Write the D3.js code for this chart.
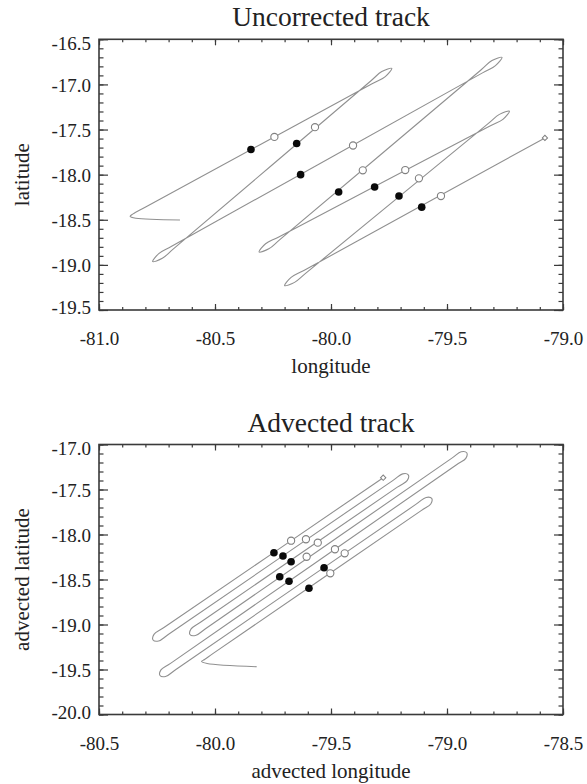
<!DOCTYPE html>
<html><head><meta charset="utf-8">
<script src="https://cdn.jsdelivr.net/npm/d3@7"></script>
<style>
body{margin:0;background:#fff}
svg{display:block}
</style>
</head><body>
<svg id="chart" width="587" height="784"></svg>
<script>
// ---------- Panel 1: Uncorrected track ----------
const uncTitle = "Uncorrected track";
const uncXLabel = "longitude";
const uncYLabel = "latitude";
const uncXTicks = [-81.0, -80.5, -80.0, -79.5, -79.0];
const uncYTicks = [-16.5, -17.0, -17.5, -18.0, -18.5, -19.0, -19.5];
const uncTrackLon = [-80.651, -80.841, -80.866, -80.853, -80.797,
  -79.823, -79.766, -79.738, -79.781, -79.830,
  -80.678, -80.727, -80.769, -80.741, -80.685,
  -79.347, -79.291, -79.263, -79.306, -79.355,
  -80.218, -80.268, -80.310, -80.282, -80.225,
  -79.317, -79.259, -79.231, -79.274, -79.324,
  -80.107, -80.157, -80.200, -80.172, -80.115,
  -79.078];
const uncTrackLat = [-18.502, -18.483, -18.463, -18.435, -18.355,
  -16.993, -16.913, -16.822, -16.857, -16.965,
  -18.820, -18.927, -18.963, -18.872, -18.791,
  -16.872, -16.791, -16.700, -16.735, -16.843,
  -18.714, -18.822, -18.857, -18.766, -18.690,
  -17.464, -17.387, -17.296, -17.332, -17.437,
  -19.089, -19.194, -19.230, -19.139, -19.059,
  -17.593];
const uncFilledLon = [-80.345, -80.148, -80.131, -79.967, -79.812, -79.707, -79.609];
const uncFilledLat = [-17.722, -17.655, -18.000, -18.193, -18.137, -18.237, -18.360];
const uncOpenLon = [-80.244, -80.069, -79.905, -79.863, -79.680, -79.621, -79.526];
const uncOpenLat = [-17.582, -17.474, -17.677, -17.952, -17.949, -18.041, -18.237];
const uncEndLon = [-79.078];
const uncEndLat = [-17.593];

// ---------- Panel 2: Advected track ----------
const advTitle = "Advected track";
const advXLabel = "advected longitude";
const advYLabel = "advected latitude";
const advXTicks = [-80.5, -80.0, -79.5, -79.0, -78.5];
const advYTicks = [-17.0, -17.5, -18.0, -18.5, -19.0, -19.5, -20.0];
const advTrackLon = [-79.820, -80.034, -80.058, -80.045, -80.003,
  -79.113, -79.070, -79.066, -79.090, -79.133,
  -80.170, -80.213, -80.237, -80.233, -80.190,
  -78.962, -78.919, -78.915, -78.939, -78.982,
  -80.041, -80.084, -80.108, -80.103, -80.061,
  -79.214, -79.171, -79.167, -79.191, -79.234,
  -80.200, -80.243, -80.267, -80.263, -80.220,
  -79.275];
const advTrackLat = [-19.469, -19.433, -19.411, -19.389, -19.313,
  -17.737, -17.661, -17.599, -17.588, -17.663,
  -19.502, -19.578, -19.567, -19.504, -19.429,
  -17.230, -17.154, -17.092, -17.081, -17.157,
  -19.047, -19.122, -19.111, -19.049, -18.973,
  -17.474, -17.399, -17.337, -17.326, -17.401,
  -19.108, -19.183, -19.172, -19.110, -19.034,
  -17.369];
const advFilledLon = [-79.746, -79.707, -79.672, -79.721, -79.681, -79.530, -79.595];
const advFilledLat = [-18.202, -18.239, -18.302, -18.469, -18.520, -18.369, -18.598];
const advOpenLon = [-79.672, -79.608, -79.557, -79.605, -79.483, -79.441, -79.503];
const advOpenLat = [-18.069, -18.053, -18.091, -18.247, -18.164, -18.209, -18.431];
const advEndLon = [-79.275];
const advEndLat = [-17.369];

const FONT = '"Liberation Serif", "DejaVu Serif", "Liberation Sans", sans-serif';
const INK = "#222";
const FRAME = "#3a3a3a";
const svg = d3.select("#chart");

const panels = [
  {title: uncTitle, xLabel: uncXLabel, yLabel: uncYLabel, xTicks: uncXTicks, yTicks: uncYTicks,
   top: 39.3, bottom: 310,
   track: d3.zip(uncTrackLon, uncTrackLat), filled: d3.zip(uncFilledLon, uncFilledLat),
   open: d3.zip(uncOpenLon, uncOpenLat), end: d3.zip(uncEndLon, uncEndLat)},
  {title: advTitle, xLabel: advXLabel, yLabel: advYLabel, xTicks: advXTicks, yTicks: advYTicks,
   top: 444.5, bottom: 714.5,
   track: d3.zip(advTrackLon, advTrackLat), filled: d3.zip(advFilledLon, advFilledLat),
   open: d3.zip(advOpenLon, advOpenLat), end: d3.zip(advEndLon, advEndLat)}
];

const L = 99, R = 563;

function styleAxis(sel) {
  sel.select(".domain").remove();
  sel.selectAll("line").attr("stroke", FRAME).attr("stroke-width", 1.2);
  sel.attr("font-family", FONT).attr("font-size", 19);
}

function styleText(sel, size) {
  sel.attr("fill", INK).attr("font-family", FONT).attr("font-size", size)
     .style("font-family", FONT).style("font-size", size + "px");
}

panels.forEach(p => {
  const g = svg.append("g");
  const xDom = [p.xTicks[0], p.xTicks[p.xTicks.length - 1]];
  const yDom = [p.yTicks[0], p.yTicks[p.yTicks.length - 1]];
  const x = d3.scaleLinear().domain(xDom).range([L, R]);
  const y = d3.scaleLinear().domain(yDom).range([p.top, p.bottom]);

  const nx = Math.round((xDom[1] - xDom[0]) / 0.1);
  const ny = Math.round((yDom[0] - yDom[1]) / 0.1);
  const xMinor = d3.range(nx + 1).map(i => xDom[0] + i * 0.1);
  const yMinor = d3.range(ny + 1).map(i => yDom[0] - i * 0.1);

  // minor ticks (all four sides)
  g.append("g").attr("transform", `translate(0,${p.bottom})`)
    .call(d3.axisBottom(x).tickValues(xMinor).tickSizeInner(-3).tickSizeOuter(0).tickFormat(""))
    .call(styleAxis);
  g.append("g").attr("transform", `translate(0,${p.top})`)
    .call(d3.axisTop(x).tickValues(xMinor).tickSizeInner(-3).tickSizeOuter(0).tickFormat(""))
    .call(styleAxis);
  g.append("g").attr("transform", `translate(${L},0)`)
    .call(d3.axisLeft(y).tickValues(yMinor).tickSizeInner(-4.5).tickSizeOuter(0).tickFormat(""))
    .call(styleAxis);
  g.append("g").attr("transform", `translate(${R},0)`)
    .call(d3.axisRight(y).tickValues(yMinor).tickSizeInner(-4.5).tickSizeOuter(0).tickFormat(""))
    .call(styleAxis);

  // major ticks with labels
  const xb = g.append("g").attr("transform", `translate(0,${p.bottom})`)
    .call(d3.axisBottom(x).tickValues(p.xTicks).tickSizeInner(-6).tickSizeOuter(0).tickPadding(0)
      .tickFormat(d => d.toFixed(1)))
    .call(styleAxis);
  xb.selectAll("text").attr("y", 35).attr("dy", null).call(styleText, 19);

  g.append("g").attr("transform", `translate(0,${p.top})`)
    .call(d3.axisTop(x).tickValues(p.xTicks).tickSizeInner(-6).tickSizeOuter(0).tickFormat(""))
    .call(styleAxis);

  const yl = g.append("g").attr("transform", `translate(${L},0)`)
    .call(d3.axisLeft(y).tickValues(p.yTicks).tickSizeInner(-9).tickSizeOuter(0).tickPadding(8)
      .tickFormat(d => d.toFixed(1)))
    .call(styleAxis);
  const n = p.yTicks.length;
  yl.selectAll("text").attr("dy", null)
    .attr("y", (d, i) => i === 0 ? 10 : (i === n - 1 ? 3.5 : 7))
    .call(styleText, 19);

  g.append("g").attr("transform", `translate(${R},0)`)
    .call(d3.axisRight(y).tickValues(p.yTicks).tickSizeInner(-9).tickSizeOuter(0).tickFormat(""))
    .call(styleAxis);

  // frame
  g.append("rect").attr("x", L).attr("y", p.top).attr("width", R - L).attr("height", p.bottom - p.top)
    .attr("fill", "none").attr("stroke", FRAME).attr("stroke-width", 1.6);

  // track
  const line = d3.line().x(d => x(d[0])).y(d => y(d[1])).curve(d3.curveCatmullRom.alpha(0.5));
  g.append("path").datum(p.track).attr("d", line)
    .attr("fill", "none").attr("stroke", "#909090").attr("stroke-width", 1.1);

  // open circles
  g.selectAll(null).data(p.open).join("circle")
    .attr("cx", d => x(d[0])).attr("cy", d => y(d[1])).attr("r", 3.6)
    .attr("fill", "#fff").attr("stroke", "#808080").attr("stroke-width", 1.1);
  // filled circles
  g.selectAll(null).data(p.filled).join("circle")
    .attr("cx", d => x(d[0])).attr("cy", d => y(d[1])).attr("r", 3.8)
    .attr("fill", "#0a0a0a");
  // end diamond
  const sq = d3.symbol(d3.symbolSquare, 14);
  g.selectAll(null).data(p.end).join("path")
    .attr("d", sq)
    .attr("transform", d => `translate(${x(d[0])},${y(d[1])}) rotate(45)`)
    .attr("fill", "#fff").attr("stroke", "#808080").attr("stroke-width", 1);

  // titles
  g.append("text").attr("x", (L + R) / 2).attr("y", p.top - 13).attr("text-anchor", "middle")
    .call(styleText, 27.5).text(p.title);
  g.append("text").attr("x", (L + R) / 2).attr("y", p.bottom + 63).attr("text-anchor", "middle")
    .call(styleText, 21).text(p.xLabel);
  g.append("text").attr("transform", `translate(29,${(p.top + p.bottom) / 2}) rotate(-90)`)
    .attr("text-anchor", "middle")
    .call(styleText, 21).text(p.yLabel);
});
</script>
</body></html>
